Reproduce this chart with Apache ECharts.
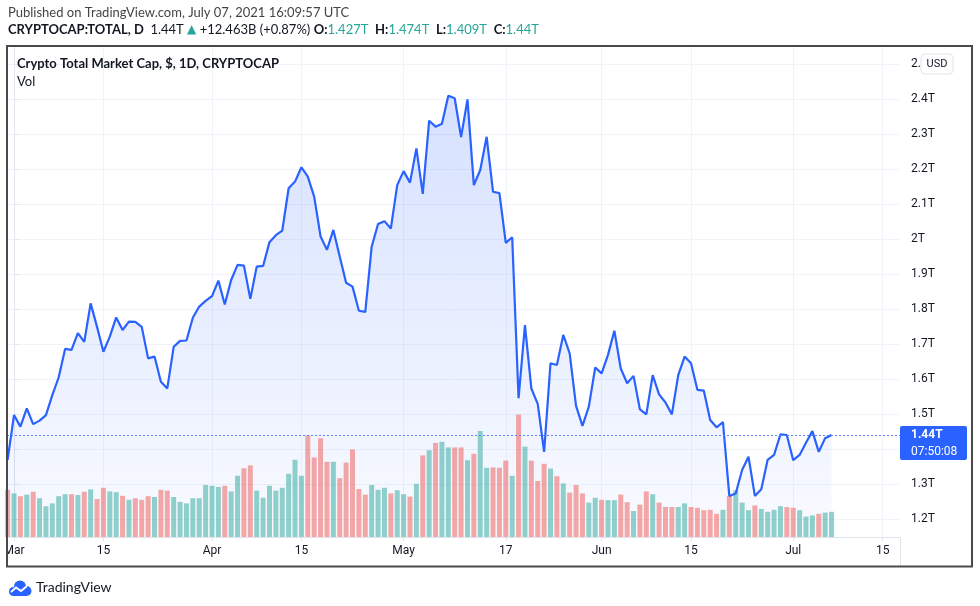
<!DOCTYPE html>
<html><head><meta charset="utf-8">
<script src="https://cdn.jsdelivr.net/npm/echarts@6/dist/echarts.min.js"></script>
<style>html,body{margin:0;padding:0;background:#fff}#c{width:980px;height:606px}</style>
</head><body><div id="c"></div>
<script>
// Day offsets are relative to 2021-03-01; first bar/point is Feb 28 (offset -1)
const firstDay = -1;
const closes = [
1.369,1.497,1.464,1.516,1.471,1.481,1.497,1.554,1.605,1.686,
1.683,1.731,1.706,1.816,1.749,1.678,1.721,1.776,1.740,1.764,
1.763,1.749,1.659,1.664,1.592,1.573,1.692,1.709,1.710,1.775,
1.807,1.823,1.837,1.881,1.813,1.883,1.926,1.924,1.829,1.921,
1.923,1.991,2.011,2.024,2.145,2.164,2.205,2.178,2.121,2.007,
1.969,2.026,1.950,1.875,1.864,1.795,1.792,1.978,2.043,2.051,
2.030,2.154,2.194,2.161,2.259,2.129,2.338,2.321,2.329,2.409,
2.402,2.291,2.399,2.154,2.197,2.292,2.135,2.131,1.989,2.005,
1.545,1.754,1.573,1.529,1.392,1.645,1.640,1.726,1.673,1.523,
1.466,1.521,1.633,1.616,1.669,1.738,1.630,1.588,1.609,1.513,
1.499,1.611,1.556,1.533,1.499,1.611,1.664,1.645,1.569,1.567,
1.483,1.462,1.477,1.266,1.273,1.340,1.378,1.266,1.285,1.369,
1.383,1.442,1.440,1.368,1.383,1.418,1.451,1.392,1.431,1.440];
const volumes = [
118,109,102,106,113,97,77,84,102,107,
107,105,113,119,95,123,114,112,103,93,
97,93,102,100,118,116,100,88,84,97,
97,130,128,125,128,114,153,172,179,116,
98,128,116,123,158,193,153,254,199,247,
188,188,147,186,219,120,106,130,118,123,
109,117,107,101,133,204,217,235,238,224,
224,224,192,208,265,173,174,173,191,153,
306,226,191,140,183,171,152,134,111,130,
109,86,98,93,92,92,106,87,65,81,
114,107,86,75,75,75,84,75,73,67,
68,58,68,103,117,86,67,79,70,63,
68,77,75,73,67,51,54,58,61,63];
const volDir = ('r g r g r g g g g g r g r g r r g g r g r r r g r r g g g g ' +
'g g g g r g g r r g g g g g g g g r r r r g r r r r r g g g ' +
'r g g r g r g r g g r r g r g g r r r g r g r r r g r g r r ' +
'r g g r g g r r g r r g r r r g g r r r r r g r g g g r g g ' +
'g g r r g g g r g g').split(' ');
const tickDays = [0,14,31,45,61,77,92,106,122,136];
const tickLabels = ['Mar','15','Apr','15','May','17','Jun','15','Jul','15'];
const priceTicks = [1.2,1.3,1.4,1.5,1.6,1.7,1.8,1.9,2.0,2.1,2.2,2.3,2.4,2.5];
const priceLabels = ['1.2T','1.3T','','1.5T','1.6T','1.7T','1.8T','1.9T','2T','2.1T','2.2T','2.3T','2.4T','2.5T'];
const header1 = 'Published on TradingView.com, July 07, 2021 16:09:57 UTC';
const symbolName = 'CRYPTOCAP:TOTAL, D';
const lastText = '1.44T';
const changeText = '+12.463B (+0.87%)';
const ohlc = ['1.427T','1.474T','1.409T','1.44T'];
const chartTitle = 'Crypto Total Market Cap, $, 1D, CRYPTOCAP';
const countdown = '07:50:08';

const UP = 'rgba(38,166,154,0.5)', DN = 'rgba(239,83,80,0.5)';
const FONT = 'Roboto';
const chart = echarts.init(document.getElementById('c'));
const xs = closes.map((_, i) => firstDay + i);
const lineData = closes.map((v, i) => [xs[i], v]);
const volData = volumes.map((v, i) => ({value: [xs[i], v], itemStyle: {color: volDir[i] === 'g' ? UP : DN}}));
const lastClose = closes[closes.length - 1];

chart.setOption({
  animation: false,
  textStyle: {fontFamily: FONT},
  grid: {left: 7, right: 80, top: 46, bottom: 69, containLabel: false},
  xAxis: {
    type: 'value', min: -1.096, max: 138.72,
    axisLine: {show: true, lineStyle: {color: '#e0e3eb'}},
    axisTick: {show: true, customValues: tickDays, length: 4, lineStyle: {color: '#e0e3eb'}},
    axisLabel: {customValues: tickDays, formatter: v => tickLabels[tickDays.indexOf(v)] || '',
      color: '#131722', fontSize: 12, margin: 8, fontFamily: FONT},
    splitLine: {show: true, lineStyle: {color: '#f0f3fa'}}
  },
  yAxis: [{
    type: 'value', position: 'right', min: 1.1486, max: 2.5514,
    axisLine: {show: true, lineStyle: {color: '#e0e3eb'}},
    axisTick: {show: true, customValues: priceTicks, length: 5, lineStyle: {color: '#e0e3eb'}},
    axisLabel: {customValues: priceTicks, formatter: v => {
        const k = priceTicks.findIndex(t => Math.abs(t - v) < 1e-6); return k >= 0 ? priceLabels[k] : ''; },
      color: '#131722', fontSize: 12, margin: 11, align: 'left', fontFamily: FONT},
    splitLine: {show: true, lineStyle: {color: '#f0f3fa'}}
  }, {
    type: 'value', min: 0, max: 1227.5, show: false, splitLine: {show: false}
  }],
  series: [{
    type: 'line', data: lineData, showSymbol: false, z: 1, silent: true,
    lineStyle: {width: 0},
    areaStyle: {origin: 'start', color: {type: 'linear', x: 0, y: 0, x2: 0, y2: 1,
      colorStops: [{offset: 0, color: 'rgba(41,98,255,0.27)'}, {offset: 1, color: 'rgba(41,98,255,0.04)'}]}}
  }, {
    type: 'bar', data: volData, yAxisIndex: 1, barWidth: 5, z: 2, silent: true
  }, {
    type: 'line', data: lineData, showSymbol: false, z: 3, silent: true,
    lineStyle: {width: 2.2, color: '#2962ff'},
    markLine: {silent: true, symbol: ['none', 'none'], label: {show: false},
      lineStyle: {type: [2, 2], color: '#5b86ff', width: 1}, data: [{yAxis: lastClose}]}
  }]
});

const py = chart.convertToPixel({yAxisIndex: 0}, lastClose);
chart.setOption({
  graphic: [
    {type: 'rect', shape: {x: 0, y: 537, width: 6, height: 30}, style: {fill: '#fff'}, z: 50},
    {type: 'line', shape: {x1: 900.5, y1: 537, x2: 900.5, y2: 566}, style: {stroke: '#e0e3eb', lineWidth: 1}, z: 50},
    {type: 'rect', shape: {x: 7, y: 46, width: 965, height: 520.5}, style: {fill: 'none', stroke: '#4a4a4a', lineWidth: 2}, z: 60},
    {type: 'text', x: 8, y: 13, style: {text: header1, fontFamily: 'Lato', fontSize: 13, fill: '#444', verticalAlign: 'middle'}, z: 60},
    {type: 'text', x: 8, y: 30, style: {
      text: '{b|' + symbolName + '}  {n|' + lastText + '} {t|▲} {n|' + changeText + '} {b|O:}{g|' + ohlc[0] + '}  {b|H:}{g|' + ohlc[1] + '}  {b|L:}{g|' + ohlc[2] + '}  {b|C:}{g|' + ohlc[3] + '}',
      fontFamily: 'Lato', fontSize: 13, verticalAlign: 'middle',
      rich: {b: {fontWeight: 'bold', fill: '#131722', fontFamily: 'Lato', fontSize: 13},
             n: {fill: '#131722', fontFamily: 'Lato', fontSize: 13},
             t: {fill: '#26a69a', fontFamily: 'DejaVu Sans', fontSize: 12},
             g: {fill: '#26a69a', fontFamily: 'Lato', fontSize: 13}}}, z: 60},
    {type: 'text', x: 17, y: 64, style: {text: chartTitle, fontFamily: 'Lato', fontWeight: 'bold', fontSize: 13, fill: '#131722', verticalAlign: 'middle'}, z: 60},
    {type: 'text', x: 17, y: 82, style: {text: 'Vol', fontFamily: 'Lato', fontSize: 13, fill: '#131722', verticalAlign: 'middle'}, z: 60},
    {type: 'rect', shape: {x: 921, y: 54, width: 32, height: 20, r: 4}, style: {fill: '#fff', stroke: '#e0e3eb', lineWidth: 1}, z: 60},
    {type: 'text', x: 937, y: 64, style: {text: 'USD', fontFamily: FONT, fontSize: 11, fill: '#131722', align: 'center', verticalAlign: 'middle'}, z: 61},
    {type: 'rect', shape: {x: 900, y: py - 9, width: 67, height: 34, r: 2}, style: {fill: '#2962ff'}, z: 60},
    {type: 'text', x: 911, y: py, style: {text: lastText, fontFamily: FONT, fontWeight: 'bold', fontSize: 12, fill: '#fff', verticalAlign: 'middle'}, z: 61},
    {type: 'text', x: 911, y: py + 17, style: {text: countdown, fontFamily: FONT, fontSize: 12, fill: '#fff', verticalAlign: 'middle'}, z: 61},
    {type: 'circle', shape: {cx: 13.5, cy: 591.5, r: 4.5}, style: {fill: '#2962ff'}, z: 60},
    {type: 'circle', shape: {cx: 20, cy: 586.5, r: 6}, style: {fill: '#2962ff'}, z: 60},
    {type: 'circle', shape: {cx: 26.5, cy: 591, r: 5}, style: {fill: '#2962ff'}, z: 60},
    {type: 'rect', shape: {x: 13.5, y: 589, width: 13, height: 7}, style: {fill: '#2962ff'}, z: 60},
    {type: 'polyline', shape: {points: [[11, 592], [16, 587.5], [21, 591], [27, 586]]}, style: {stroke: '#fff', lineWidth: 1.8, fill: 'none'}, z: 61},
    {type: 'text', x: 36, y: 587, style: {text: 'TradingView', fontFamily: 'Lato', fontSize: 14, fill: '#131722', verticalAlign: 'middle'}, z: 60}
  ]
});
</script></body></html>
